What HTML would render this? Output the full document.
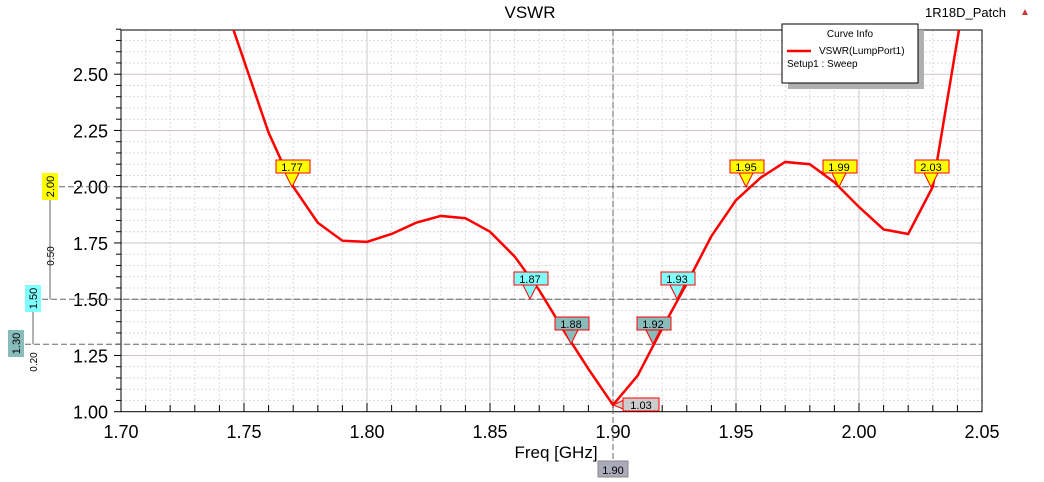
<!DOCTYPE html>
<html><head><meta charset="utf-8"><style>
body{margin:0;background:#fff;width:1044px;height:482px;overflow:hidden}
svg{display:block;font-family:"Liberation Sans",sans-serif}
</style></head><body>
<svg id="s" width="1044" height="482" xmlns="http://www.w3.org/2000/svg">
<rect width="1044" height="482" fill="#fff"/>
<g id="grid"></g>
<text x="530" y="18" font-size="17" text-anchor="middle">VSWR</text>
<text x="925" y="17" font-size="13">1R18D_Patch</text>
<text x="1020" y="15" font-size="10" fill="#c33">▲</text>
<g id="main"></g>
<!-- curve info -->
<rect x="788" y="30" width="136" height="59" fill="#b0b0b0"/>
<rect x="782" y="24" width="136" height="59" fill="#fff" stroke="#000"/>
<text x="850" y="37" font-size="10" text-anchor="middle">Curve Info</text>
<line x1="787" y1="51" x2="811" y2="51" stroke="#f00" stroke-width="2.5"/>
<text x="819" y="54" font-size="10">VSWR(LumpPort1)</text>
<text x="787" y="67" font-size="10">Setup1 : Sweep</text>
</svg>
<script>
const X=f=>121+(f-1.70)*2460, Y=v=>411.7-(v-1)*225;
const ns="http://www.w3.org/2000/svg";
function el(p,t,a,txt){const e=document.createElementNS(ns,t);for(const k in a)e.setAttribute(k,a[k]);if(txt!==undefined)e.textContent=txt;p.appendChild(e);return e;}
const g=document.getElementById('grid'), m=document.getElementById('main');
// minor grid
for(let i=1;i<35;i++){const x=X(1.70+i*0.01);el(g,'line',{x1:x,y1:30,x2:x,y2:411.7,stroke:i%5==0?'#c8c8c8':'#ddd','stroke-dasharray':i%5==0?'':'2,2'});}
for(let i=1;i<34;i++){const y=Y(1+i*0.05);el(g,'line',{x1:121,y1:y,x2:982,y2:y,stroke:i%5==0?'#d0c0d0':'#e0d6e0','stroke-dasharray':i%5==0?'':'2,2'});}
el(g,'rect',{x:121,y:30,width:861,height:381.7,fill:'none',stroke:'#000'});
// ticks
for(let i=0;i<=35;i++){const x=X(1.70+i*0.01);el(g,'line',{x1:x,y1:411.7,x2:x,y2:i%5==0?403:405,stroke:'#000'});}
for(let i=0;i<=34;i++){const y=Y(1+i*0.05);el(g,'line',{x1:121,y1:y,x2:i%5==0?114:116,y2:y,stroke:'#000'});}
for(let i=0;i<=7;i++){const f=1.70+i*0.05;el(g,'text',{x:X(f),y:438,'font-size':18,'text-anchor':'middle'},f.toFixed(2));}
for(let i=0;i<=6;i++){const v=1+i*0.25;el(g,'text',{x:108,y:Y(v)+7,'font-size':18,'text-anchor':'end'},v.toFixed(2));}
el(g,'text',{x:556,y:458,'font-size':17,'text-anchor':'middle'},'Freq [GHz]');
// dashed marker lines
[[2.0,50],[1.5,33],[1.3,16]].forEach(([v,x0])=>el(g,'line',{x1:x0,y1:Y(v),x2:982,y2:Y(v),stroke:'#666','stroke-dasharray':'6,3'}));
el(g,'line',{x1:X(1.9),y1:30,x2:X(1.9),y2:462,stroke:'#666','stroke-dasharray':'6,3'});
el(g,'line',{x1:50,y1:200,x2:50,y2:Y(1.5),stroke:'#666'});
el(g,'line',{x1:33,y1:312,x2:33,y2:Y(1.3),stroke:'#666'});
function vlab(x,y,w,h,fill,t){el(g,'rect',{x:x,y:y,width:w,height:h,fill:fill});el(g,'text',{x:0,y:0,'font-size':11,'text-anchor':'middle',transform:`translate(${x+w/2+4},${y+h/2}) rotate(-90)`},t);}
vlab(42,173,16,27,'#ffff00','2.00');vlab(25,285,16,27,'#80ffff','1.50');vlab(8,330,16,27,'#88bbbb','1.30');
el(g,'text',{x:0,y:0,'font-size':10,'text-anchor':'middle',transform:'translate(54,256) rotate(-90)'},'0.50');
el(g,'text',{x:0,y:0,'font-size':10,'text-anchor':'middle',transform:'translate(37,362) rotate(-90)'},'0.20');
el(g,'rect',{x:598,y:461,width:30,height:16,fill:'#aab',stroke:'#888'});
el(g,'text',{x:613,y:474,'font-size':11,'text-anchor':'middle'},'1.90');
// curve
const d=[[1.745,2.72],[1.76,2.24],[1.77,2.0],[1.78,1.84],[1.79,1.76],[1.80,1.755],[1.81,1.79],[1.82,1.84],[1.83,1.87],[1.84,1.86],[1.85,1.80],[1.86,1.69],[1.87,1.54],[1.88,1.36],[1.89,1.19],[1.90,1.03],[1.91,1.16],[1.92,1.37],[1.93,1.57],[1.94,1.78],[1.95,1.94],[1.96,2.04],[1.97,2.11],[1.98,2.10],[1.99,2.02],[2.00,1.91],[2.01,1.81],[2.02,1.79],[2.03,2.00],[2.041,2.72]];
el(m,'polyline',{points:d.map(p=>X(p[0])+','+Y(p[1])).join(' '),fill:'none',stroke:'#f00','stroke-width':2.5,'clip-path':'url(#c)'});
const cp=el(m,'clipPath',{id:'c'});el(cp,'rect',{x:121,y:30,width:861,height:382});
// markers
function mk(px,py,t,fill){const bx=px-17,by=py-27;
el(m,'polygon',{points:`${px-7},${by+13} ${px+7},${by+13} ${px},${py}`,fill:fill,stroke:'#f00'});
el(m,'rect',{x:bx+1,y:by,width:34,height:13,fill:fill,stroke:'#f00'});
el(m,'text',{x:px,y:by+11,'font-size':11,'text-anchor':'middle'},t);}
mk(292,187,'1.77','#ffff00');mk(746,187,'1.95','#ffff00');mk(839,187,'1.99','#ffff00');mk(931,187,'2.03','#ffff00');
mk(530,299,'1.87','#80ffff');mk(677,299,'1.93','#80ffff');
mk(571,344,'1.88','#88bbbb');mk(653,344,'1.92','#88bbbb');
// min marker
el(m,'polygon',{points:`613,405 626,399 626,410`,fill:'#ccc',stroke:'#f00'});
el(m,'rect',{x:623,y:398,width:36,height:13,fill:'#ccc',stroke:'#f00'});
el(m,'text',{x:641,y:409,'font-size':11,'text-anchor':'middle'},'1.03');
</script>
</body></html>
